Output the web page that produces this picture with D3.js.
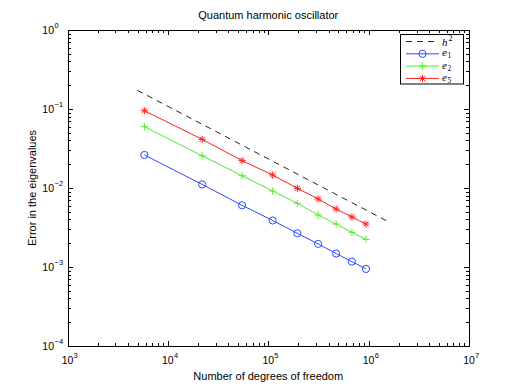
<!DOCTYPE html>
<html>
<head>
<meta charset="utf-8">
<script src="https://cdn.jsdelivr.net/npm/d3@7"></script>
<style>
  body { margin: 0; background: #fff; }
  text { font-family: "Liberation Sans", Arial, sans-serif; fill: #000; }
  .tex { font-family: "Liberation Serif", "DejaVu Serif", serif; }
</style>
</head>
<body>
<svg width="519" height="391"></svg>
<script>
// data
const dofs = [5832, 21952, 54872, 110592, 195112, 314432, 474552, 681472, 941192]
const errE1 = [0.0262, 0.0111, 0.00604, 0.00388, 0.00267, 0.00196, 0.00148, 0.00117, 0.000944]
const errE2 = [0.0597, 0.0256, 0.0143, 0.00916, 0.0064, 0.00455, 0.0035, 0.00275, 0.00224]
const errE5 = [0.0951, 0.0413, 0.0222, 0.0146, 0.00991, 0.00726, 0.00542, 0.0043, 0.0035]
const refDofs = [4960, 1590000]
const refErr = [0.1725, 0.00371]

const xTickVals = [1e3, 1e4, 1e5, 1e6, 1e7]
const xTickExp = ['3', '4', '5', '6', '7']
const yTickVals = [1e-4, 1e-3, 1e-2, 1e-1, 1e0]
const yTickExp = ['\u22124', '\u22123', '\u22122', '\u22121', '0']

const series = [
  { name: 'e', sub: '1', values: errE1, color: '#2a4bff', marker: 'circle' },
  { name: 'e', sub: '2', values: errE2, color: '#4cee26', marker: 'plus' },
  { name: 'e', sub: '5', values: errE5, color: '#ff2020', marker: 'star' },
]

const svg = d3.select('svg')
const pLeft = 67.5, pRight = 469, pTop = 30, pBottom = 346

const x = d3.scaleLog().domain([1e3, 1e7]).range([pLeft, pRight])
const y = d3.scaleLog().domain([1e-4, 1e0]).range([pBottom, pTop])

// minor tick positions (2..9 per decade)
function minors(domain) {
  const out = []
  for (let e = Math.log10(domain[0]); e < Math.log10(domain[1]); e++) {
    for (let k = 2; k <= 9; k++) out.push(k * Math.pow(10, e))
  }
  return out
}

const axes = svg.append('g').attr('stroke', '#000').attr('stroke-width', 1)
  .attr('shape-rendering', 'crispEdges')

function ticksX(vals, len) {
  vals.forEach(v => {
    const px = Math.round(x(v)) + 0.5
    axes.append('line').attr('x1', px).attr('x2', px).attr('y1', pBottom).attr('y2', pBottom - len)
    axes.append('line').attr('x1', px).attr('x2', px).attr('y1', pTop).attr('y2', pTop + len)
  })
}
function ticksY(vals, len) {
  vals.forEach(v => {
    const py = Math.round(y(v)) + 0.5
    axes.append('line').attr('y1', py).attr('y2', py).attr('x1', pLeft).attr('x2', pLeft + len)
    axes.append('line').attr('y1', py).attr('y2', py).attr('x1', pRight).attr('x2', pRight - len)
  })
}
ticksX(xTickVals, 5)
ticksX(minors(x.domain()), 3)
ticksY(yTickVals, 5)
ticksY(minors(y.domain()), 3)

axes.append('rect')
  .attr('x', Math.round(pLeft) + 0.5).attr('y', pTop + 0.5)
  .attr('width', Math.round(pRight) - Math.round(pLeft)).attr('height', pBottom - pTop)
  .attr('fill', 'none')

// tick labels
xTickVals.forEach((v, i) => {
  const g = svg.append('g').attr('transform', `translate(${x(v)},${pBottom + 18})`)
  g.append('text').attr('text-anchor', 'middle').attr('font-size', 10.5).text('10')
  g.append('text').attr('x', 6).attr('y', -6).attr('font-size', 7.5).text(xTickExp[i])
})
yTickVals.forEach((v, i) => {
  const g = svg.append('g').attr('transform', `translate(54,${y(v) + 4})`)
  g.append('text').attr('text-anchor', 'end').attr('font-size', 10.5).text('10')
  g.append('text').attr('x', 0.5).attr('y', -6).attr('font-size', 7.5).text(yTickExp[i])
})

// titles
svg.append('text').attr('x', (pLeft + pRight) / 2).attr('y', 19)
  .attr('text-anchor', 'middle').attr('font-size', 11).text('Quantum harmonic oscillator')
svg.append('text').attr('x', (pLeft + pRight) / 2).attr('y', 380)
  .attr('text-anchor', 'middle').attr('font-size', 11).text('Number of degrees of freedom')
svg.append('text').attr('transform', `translate(36,${(pTop + pBottom) / 2}) rotate(-90)`)
  .attr('text-anchor', 'middle').attr('font-size', 11).text('Error in the eigenvalues')

// markers
function drawMarker(g, type, cx, cy, color) {
  const r = 3.6
  if (type === 'circle') {
    g.append('circle').attr('cx', cx).attr('cy', cy).attr('r', r)
      .attr('fill', 'none').attr('stroke', color).attr('stroke-width', 1)
  } else {
    const p = d3.path()
    p.moveTo(cx - r, cy); p.lineTo(cx + r, cy)
    p.moveTo(cx, cy - r); p.lineTo(cx, cy + r)
    if (type === 'star') {
      const d = r * 0.72
      p.moveTo(cx - d, cy - d); p.lineTo(cx + d, cy + d)
      p.moveTo(cx - d, cy + d); p.lineTo(cx + d, cy - d)
    }
    g.append('path').attr('d', p.toString()).attr('fill', 'none')
      .attr('stroke', color).attr('stroke-width', 1)
  }
}

const line = d3.line().x(d => x(d[0])).y(d => y(d[1]))
const plot = svg.append('g')

// reference slope h^2
plot.append('path')
  .attr('d', line(refDofs.map((d, i) => [d, refErr[i]])))
  .attr('fill', 'none').attr('stroke', '#222').attr('stroke-width', 1)
  .attr('stroke-dasharray', '6,5')

series.forEach(s => {
  const pts = dofs.map((d, i) => [d, s.values[i]])
  plot.append('path').attr('d', line(pts))
    .attr('fill', 'none').attr('stroke', s.color).attr('stroke-width', 1)
  pts.forEach(p => drawMarker(plot, s.marker, x(p[0]), y(p[1]), s.color))
})

// legend
const lg = svg.append('g')
lg.append('rect').attr('x', 400.5).attr('y', 34.5).attr('width', 63).attr('height', 49.5)
  .attr('fill', '#fff').attr('stroke', '#000').attr('stroke-width', 1)
const rowY = [41.5, 53.8, 66.1, 78.4]
const x0 = 406, x1 = 439, tx = 442

lg.append('line').attr('x1', x0).attr('x2', x1).attr('y1', rowY[0]).attr('y2', rowY[0])
  .attr('stroke', '#222').attr('stroke-dasharray', '6,5')
lg.append('text').attr('class', 'tex').attr('x', tx).attr('y', rowY[0] + 4)
  .attr('font-size', 11).attr('font-style', 'italic').text('h')
lg.append('text').attr('class', 'tex').attr('x', tx + 6.5).attr('y', rowY[0] - 0.5)
  .attr('font-size', 8).text('2')

series.forEach((s, i) => {
  const yy = rowY[i + 1]
  lg.append('line').attr('x1', x0).attr('x2', x1).attr('y1', yy).attr('y2', yy)
    .attr('stroke', s.color)
  drawMarker(lg, s.marker, (x0 + x1) / 2, yy, s.color)
  lg.append('text').attr('class', 'tex').attr('x', tx).attr('y', yy + 2.5)
    .attr('font-size', 11).attr('font-style', 'italic').text(s.name)
  lg.append('text').attr('class', 'tex').attr('x', tx + 5.5).attr('y', yy + 4.5)
    .attr('font-size', 7.5).text(s.sub)
})
</script>
</body>
</html>
